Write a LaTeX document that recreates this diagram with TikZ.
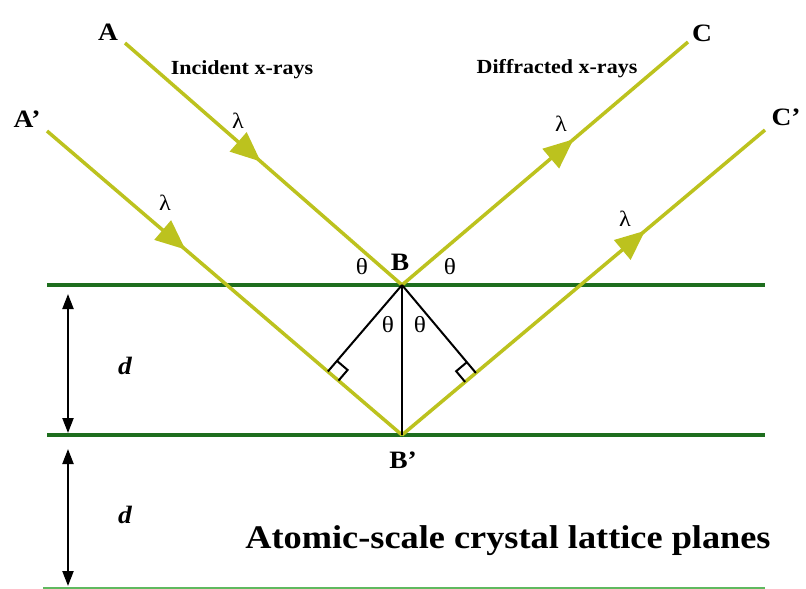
\documentclass[tikz,border=0pt]{standalone}
\usepackage{fontspec}
\setmainfont{Liberation Serif}[FakeStretch=1.1]
\usetikzlibrary{arrows.meta,calc,decorations.markings}
\definecolor{raycol}{RGB}{188,194,30}
\definecolor{planecol}{RGB}{30,110,30}
\definecolor{planelight}{RGB}{95,185,95}
\begin{document}
\begin{tikzpicture}[x=1pt,y=-1pt,>={Triangle[length=15pt,width=11pt]}]
      \tikzset{plane/.style={planecol, line width=4pt},
        ray/.style={raycol, line width=3.5pt, postaction={decorate},
          decoration={markings, mark=at position #1 with {\arrow{Triangle[length=30pt,width=25pt]}}}},
        perp/.style={black, line width=2pt},
        ptlab/.style={inner sep=0pt, font=\fontsize{25}{25}\selectfont\bfseries},
        lam/.style={inner sep=0pt, font=\fontsize{22}{22}\selectfont},
        ang/.style={inner sep=0pt, font=\fontsize{23}{23}\selectfont},
        raylab/.style={inner sep=0pt, anchor=base, font=\fontsize{20}{20}\selectfont\bfseries}}
      \useasboundingbox (0,0) rectangle (806,589);
      \coordinate (B) at (402,285);
      \coordinate (Bp) at (402,435);
      \coordinate (A) at (125,43);
      \coordinate (Ap) at (47,131);
      \coordinate (C) at (688,42);
      \coordinate (Cp) at (765,130);
      \coordinate (p1l) at (47,285);
      \coordinate (p1r) at (765,285);
      \coordinate (p2l) at (47,435);
      \coordinate (p2r) at (765,435);
      \coordinate (p3l) at (43,588);
      \coordinate (p3r) at (765,588);
      \draw[plane] (p1l) -- (p1r);
      \draw[plane] (p2l) -- (p2r);
      \draw[planelight, line width=2pt] (p3l) -- (p3r);
      \draw[ray=0.49] (A) -- (B);
      \draw[ray=0.39] (Ap) -- (Bp);
      \draw[ray=0.6] (B) -- (C);
      \draw[ray=0.67] (Bp) -- (Cp);
      \coordinate (F1) at ($(Ap)!(B)!(Bp)$);
      \coordinate (F2) at ($(Bp)!(B)!(Cp)$);
      \draw[perp] (B) -- (Bp);
      \draw[perp] (B) -- (F1);
      \draw[perp] (B) -- (F2);
      \coordinate (m1a) at ($(F1)!14pt!(B)$);
      \coordinate (m1b) at ($(F1)!14pt!(Bp)$);
      \coordinate (m2a) at ($(F2)!14pt!(B)$);
      \coordinate (m2b) at ($(F2)!14pt!(Bp)$);
      \draw[perp] (m1a) -- ($(m1a)+(m1b)-(F1)$) -- (m1b);
      \draw[perp] (m2a) -- ($(m2a)+(m2b)-(F2)$) -- (m2b);
      \coordinate (d1t) at (68,294);
      \coordinate (d1b) at (68,433);
      \coordinate (d2t) at (68,449);
      \coordinate (d2b) at (68,586);
      \draw[<->, line width=2.2pt] (d1t) -- (d1b);
      \draw[<->, line width=2.2pt] (d2t) -- (d2b);
      \node[ptlab] (lA) at (108,32) {A};
      \node[ptlab] (lAp) at (27,119) {A’};
      \node[ptlab] (lC) at (702,33) {C};
      \node[ptlab] (lCp) at (786,117) {C’};
      \node[ptlab] (lB) at (400,262) {B};
      \node[ptlab] (lBp) at (403,460) {B’};
      \node[lam] (lam1) at (238,121) {λ};
      \node[lam] (lam2) at (165,203) {λ};
      \node[lam] (lam3) at (561,124) {λ};
      \node[lam] (lam4) at (625,219) {λ};
      \node[ang] (th1) at (362,267) {θ};
      \node[ang] (th2) at (450,267) {θ};
      \node[ang] (th3) at (388,325) {θ};
      \node[ang] (th4) at (420,325) {θ};
      \node[raylab] (inc) at (242,74) {Incident x-rays};
      \node[raylab] (dif) at (557,73) {Diffracted x-rays};
      \node[inner sep=0pt, font=\fontsize{25}{25}\selectfont\bfseries\itshape] (d1) at (125,366) {d};
      \node[inner sep=0pt, font=\fontsize{25}{25}\selectfont\bfseries\itshape] (d2) at (125,515) {d};
      \node[raylab, font=\fontsize{33}{33}\selectfont\bfseries] (planes) at (508,548) {Atomic-scale crystal lattice planes};
    \end{tikzpicture}
\end{document}
